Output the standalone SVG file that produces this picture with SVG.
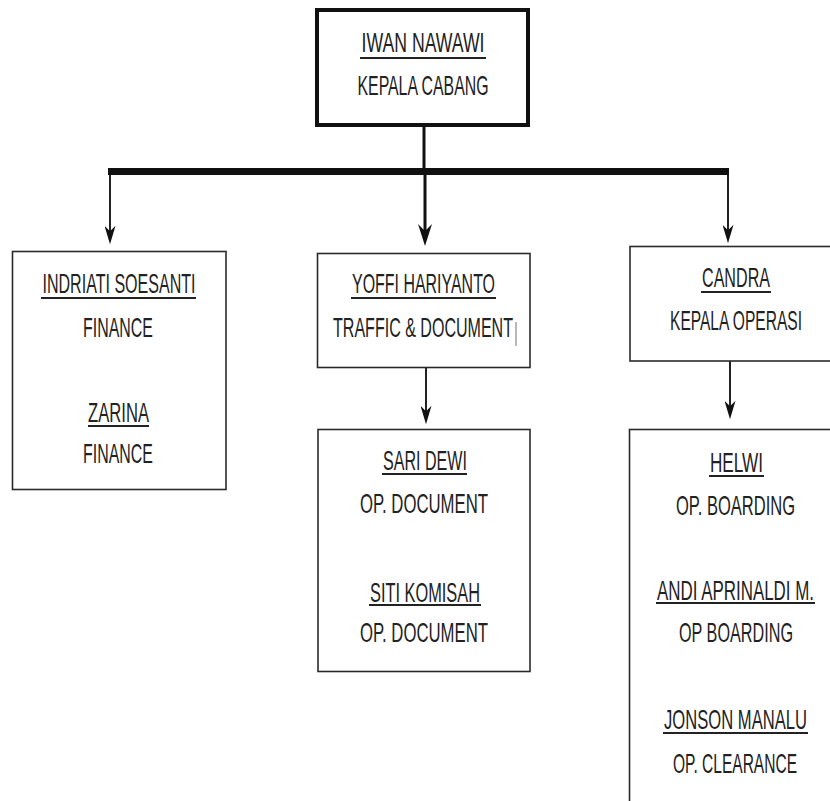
<svg xmlns="http://www.w3.org/2000/svg" width="830" height="801" viewBox="0 0 830 801">
<defs>
<style>
.box{fill:#fff;stroke:#2a2a2a;stroke-width:1.6}
.top{fill:#fff;stroke:#111;stroke-width:4}
text{font-family:"Liberation Sans",Arial,sans-serif;font-size:28px;fill:#222;text-anchor:middle}
.ul{stroke:#222;stroke-width:1.8}
.ln{stroke:#222;stroke-width:2;fill:none}
.lnb{stroke:#111;stroke-width:3;fill:none}
</style>
<marker id="ah" viewBox="0 0 20 12" refX="10" refY="6" markerWidth="20" markerHeight="11" markerUnits="userSpaceOnUse" orient="auto">
<path d="M0,0 L20,6 L0,12 L6,6 Z" fill="#111"/>
</marker>
<marker id="ahb" viewBox="0 0 22 14" refX="10" refY="7" markerWidth="22" markerHeight="14" markerUnits="userSpaceOnUse" orient="auto">
<path d="M0,0 L22,7 L0,14 L7,7 Z" fill="#111"/>
</marker>
</defs>
<rect width="830" height="801" fill="#fff"/>
<g id="connectors">
<line class="lnb" x1="424" y1="126" x2="424" y2="172"/>
<rect x="108" y="168" width="621" height="7" fill="#111"/>
<line class="ln" x1="110" y1="175" x2="110" y2="235" marker-end="url(#ah)"/>
<line class="lnb" x1="425" y1="175" x2="425" y2="234" marker-end="url(#ahb)"/>
<line class="ln" x1="728" y1="175" x2="728" y2="234" marker-end="url(#ah)"/>
<line class="ln" x1="426" y1="368" x2="426" y2="415" marker-end="url(#ah)"/>
<line class="ln" x1="730" y1="361" x2="730" y2="410" marker-end="url(#ah)"/>
</g>
<g id="kepala-cabang">
<rect class="top" x="317" y="10" width="211" height="115"/>
<text x="423" y="52" textLength="123" lengthAdjust="spacingAndGlyphs">IWAN NAWAWI</text>
<line class="ul" x1="360" y1="58" x2="486" y2="58"/>
<text x="423" y="95" textLength="131" lengthAdjust="spacingAndGlyphs">KEPALA CABANG</text>
</g>
<g id="finance">
<rect class="box" x="12.5" y="251.5" width="213.5" height="238"/>
<text x="119" y="293" textLength="153" lengthAdjust="spacingAndGlyphs">INDRIATI SOESANTI</text>
<line class="ul" x1="41" y1="298" x2="196" y2="298"/>
<text x="118" y="337" textLength="70" lengthAdjust="spacingAndGlyphs">FINANCE</text>
<text x="118.5" y="422" textLength="61" lengthAdjust="spacingAndGlyphs">ZARINA</text>
<line class="ul" x1="88" y1="426" x2="149" y2="426"/>
<text x="118" y="463" textLength="70" lengthAdjust="spacingAndGlyphs">FINANCE</text>
</g>
<g id="traffic">
<rect class="box" x="317.5" y="253.5" width="212.5" height="114"/>
<text x="423.5" y="293" textLength="143" lengthAdjust="spacingAndGlyphs">YOFFI HARIYANTO</text>
<line class="ul" x1="351" y1="298" x2="496" y2="298"/>
<text x="423" y="337" textLength="180" lengthAdjust="spacingAndGlyphs">TRAFFIC &amp; DOCUMENT</text>
<line x1="516" y1="322" x2="516" y2="346" stroke="#888" stroke-width="1.2"/>
</g>
<g id="op-document">
<rect class="box" x="318" y="429.5" width="212" height="242"/>
<text x="425" y="470" textLength="84" lengthAdjust="spacingAndGlyphs">SARI DEWI</text>
<line class="ul" x1="382" y1="474" x2="467" y2="474"/>
<text x="424" y="513" textLength="128" lengthAdjust="spacingAndGlyphs">OP. DOCUMENT</text>
<text x="425" y="602" textLength="110" lengthAdjust="spacingAndGlyphs">SITI KOMISAH</text>
<line class="ul" x1="369" y1="605" x2="481" y2="605"/>
<text x="424" y="642" textLength="128" lengthAdjust="spacingAndGlyphs">OP. DOCUMENT</text>
</g>
<g id="kepala-operasi">
<rect class="box" x="630" y="246.5" width="220" height="114.5"/>
<text x="736" y="287" textLength="68" lengthAdjust="spacingAndGlyphs">CANDRA</text>
<line class="ul" x1="701" y1="292" x2="771" y2="292"/>
<text x="736" y="330" textLength="132" lengthAdjust="spacingAndGlyphs">KEPALA OPERASI</text>
</g>
<g id="op-boarding">
<rect class="box" x="629.5" y="429.5" width="220" height="400"/>
<text x="736.5" y="472" textLength="53" lengthAdjust="spacingAndGlyphs">HELWI</text>
<line class="ul" x1="709" y1="476" x2="764" y2="476"/>
<text x="735.5" y="515" textLength="119" lengthAdjust="spacingAndGlyphs">OP. BOARDING</text>
<text x="735.5" y="600" textLength="157" lengthAdjust="spacingAndGlyphs">ANDI APRINALDI M.</text>
<line class="ul" x1="656" y1="603" x2="815" y2="603"/>
<text x="736" y="642" textLength="114" lengthAdjust="spacingAndGlyphs">OP BOARDING</text>
<text x="735.5" y="729" textLength="143" lengthAdjust="spacingAndGlyphs">JONSON MANALU</text>
<line class="ul" x1="663" y1="733" x2="808" y2="733"/>
<text x="735" y="773" textLength="124" lengthAdjust="spacingAndGlyphs">OP. CLEARANCE</text>
</g>
</svg>
